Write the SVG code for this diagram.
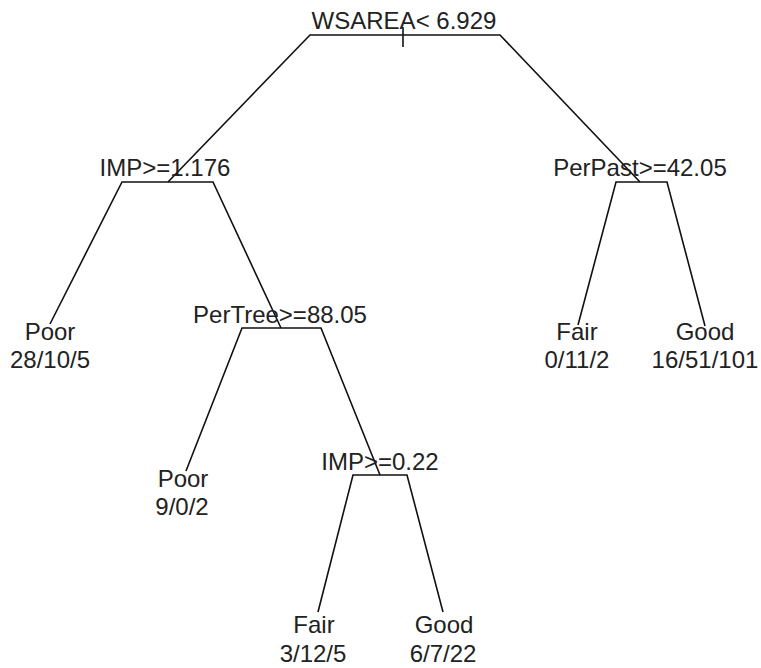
<svg xmlns="http://www.w3.org/2000/svg" width="761" height="668" viewBox="0 0 761 668">
<style>
text{font-family:"Liberation Sans",Arial,sans-serif;font-size:24px;fill:#222;text-anchor:middle}
.e{stroke:#111;stroke-width:1.6;fill:none}
</style>
<rect width="761" height="668" fill="#fff"/>
<g id="connectors">
<polyline class="e" points="168,182 310,35 500,35 640,182"/>
<line class="e" x1="403" y1="27" x2="403" y2="47"/>
<polyline class="e" points="50,324 122,182 213,182 281,328"/>
<polyline class="e" points="578,325 616,182 667,182 705,326"/>
<polyline class="e" points="186,471 242,328 321,328 380,475"/>
<polyline class="e" points="318,612 353,475 407,475 443,612"/>
</g>
<g id="n-root"><text x="404" y="29">WSAREA&lt; 6.929</text></g>
<g id="n-imp1"><text x="165" y="176">IMP&gt;=1.176</text></g>
<g id="n-perpast"><text x="640" y="176">PerPast&gt;=42.05</text></g>
<g id="n-pertree"><text x="280" y="323">PerTree&gt;=88.05</text></g>
<g id="n-imp2"><text x="380" y="470">IMP&gt;=0.22</text></g>
<g id="leaf-poor1"><text x="50" y="340">Poor</text><text x="50" y="368">28/10/5</text></g>
<g id="leaf-fair1"><text x="577" y="340">Fair</text><text x="577" y="368">0/11/2</text></g>
<g id="leaf-good1"><text x="705" y="340">Good</text><text x="705" y="368">16/51/101</text></g>
<g id="leaf-poor2"><text x="183" y="487">Poor</text><text x="182" y="515">9/0/2</text></g>
<g id="leaf-fair2"><text x="314" y="633">Fair</text><text x="313" y="662">3/12/5</text></g>
<g id="leaf-good2"><text x="444" y="633">Good</text><text x="443" y="662">6/7/22</text></g>
</svg>
